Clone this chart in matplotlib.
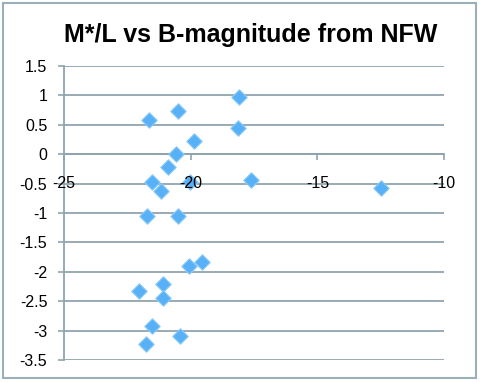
import matplotlib
matplotlib.use("Agg")
import matplotlib.pyplot as plt
from matplotlib.patches import Rectangle

# B-magnitude vs M*/L values
b_mag = [-21.64, -20.49, -19.86, -20.57, -20.88, -21.54, -21.17, -20.03,
         -21.74, -20.49, -18.09, -18.13, -17.62, -12.50,
         -19.56, -20.05, -21.10, -22.03, -21.08, -21.54, -20.42, -21.78]
ml_ratio = [0.59, 0.74, 0.23, 0.00, -0.21, -0.47, -0.62, -0.47,
            -1.05, -1.05, 0.97, 0.44, -0.44, -0.58,
            -1.83, -1.90, -2.20, -2.32, -2.44, -2.92, -3.09, -3.22]

x_ticks = [-25, -20, -15, -10]
y_ticks = [1.5, 1, 0.5, 0, -0.5, -1, -1.5, -2, -2.5, -3, -3.5]

plt.rcParams['font.family'] = ['Liberation Sans', 'DejaVu Sans']
plt.rcParams['axes.unicode_minus'] = False

grid_col = '#90A4AE'
fig = plt.figure(figsize=(4.8, 3.82), dpi=100)
fig.patches.append(Rectangle((3 / 480, 4 / 382), 473 / 480, 375 / 382,
                             transform=fig.transFigure, fill=False,
                             edgecolor='#9AAFB8', linewidth=1.5))

ax = fig.add_axes([64 / 480, 22 / 382, 380 / 480, 294 / 382])
ax.scatter(b_mag, ml_ratio, marker='D', s=62, facecolor='#58B0F6',
           edgecolor='#8CCBF9', linewidth=0.8, zorder=3)

ax.set_xlim(-25, -10)
ax.set_ylim(-3.5, 1.5)
ax.set_xticks(x_ticks)
ax.set_yticks(y_ticks)
ax.set_yticklabels([('%g' % v) for v in y_ticks])
ax.grid(True, axis='y', color=grid_col, linewidth=1.3)
ax.yaxis.set_zorder(0.5)
ax.xaxis.set_zorder(4)  # x labels sit over gridlines and markers, like Excel

for s in ['top', 'right']:
    ax.spines[s].set_visible(False)
ax.spines['bottom'].set_position(('data', 0))
ax.spines['bottom'].set_color(grid_col)
ax.spines['left'].set_color(grid_col)
ax.spines['bottom'].set_linewidth(1.3)
ax.spines['left'].set_linewidth(1.3)

ax.tick_params(axis='x', direction='out', length=4, width=1.2, color=grid_col,
               labelsize=11.5, pad=12)
ax.tick_params(axis='y', direction='out', length=4, width=1.2, color=grid_col,
               labelsize=11.5, pad=8)

fig.text(251 / 480, 1 - 42 / 382, 'M*/L vs B-magnitude from NFW',
         ha='center', va='baseline', fontsize=18, fontweight='bold')

fig.savefig('out.png', dpi=100)
